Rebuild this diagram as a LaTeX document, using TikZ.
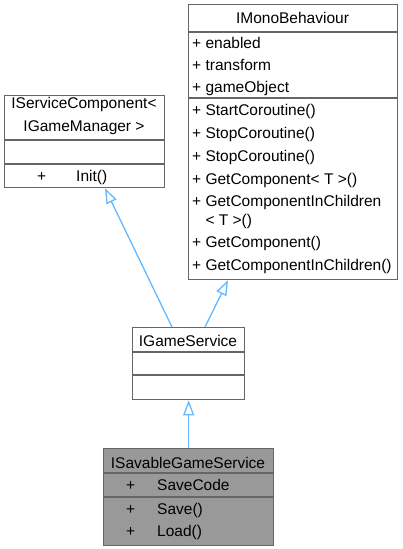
\documentclass[tikz,border=0pt]{standalone}
\usepackage{fontspec}
\setmainfont{Liberation Sans}
\usepackage{xcolor}
\usetikzlibrary{arrows.meta, positioning}
\definecolor{edgeblue}{HTML}{63B8FF}
\definecolor{boxline}{HTML}{666666}
\definecolor{boxfill}{HTML}{999999}
\tikzset{
  cls/.style ={rectangle, draw=boxline, line width=1.3pt, fill=white,
               anchor=north west, inner sep=0pt},
  sep/.style ={draw=boxline, line width=1.3pt},
  ttl/.style ={align=center, inner sep=0pt},
  mem/.style ={anchor=west, inner sep=0pt, text height=11pt, text depth=0pt},
  inh/.style ={-{Triangle[open, length=15pt, width=11pt]}, edgeblue,
               line width=1.3pt}
}

\begin{document}
\begin{tikzpicture}[x=1pt, y=-1pt, font=\fontsize{15.5}{23}\selectfont]
\useasboundingbox (0,0) rectangle (402,549);

% class boxes
\node[cls, minimum width=160pt, minimum height=92pt] (sc) at (4,95) {};
\node[cls, minimum width=209pt, minimum height=275pt] (mb) at (188,4) {};
\node[cls, minimum width=112pt, minimum height=72pt] (gs) at (132,327) {};
\node[cls, fill=boxfill, minimum width=170pt, minimum height=97pt] (sv) at (103,448) {};

% compartments
\draw[sep] ([yshift=-45pt]sc.north west) -- ([yshift=-45pt]sc.north east);
\draw[sep] ([yshift=-69pt]sc.north west) -- ([yshift=-69pt]sc.north east);
\draw[sep] ([yshift=-28pt]mb.north west) -- ([yshift=-28pt]mb.north east);
\draw[sep] ([yshift=-94pt]mb.north west) -- ([yshift=-94pt]mb.north east);
\draw[sep] ([yshift=-25pt]gs.north west) -- ([yshift=-25pt]gs.north east);
\draw[sep] ([yshift=-48pt]gs.north west) -- ([yshift=-48pt]gs.north east);
\draw[sep] ([yshift=-25pt]sv.north west) -- ([yshift=-25pt]sv.north east);
\draw[sep] ([yshift=-49pt]sv.north west) -- ([yshift=-49pt]sv.north east);

% titles
\node[ttl] (scT) at (84,116) {IServiceComponent<\\IGameManager >};
\node[ttl] (mbT) at (292.5,18) {IMonoBehaviour};
\node[ttl] (gsT) at (188,341) {IGameService};
\node[ttl] (svT) at (188,463) {ISavableGameService};

% members
\node[mem] (scP) at (37,176) {+};
\node[mem] (scM) at (76,176) {Init()};
\foreach \y/\t [count=\i] in {43/{+ enabled}, 65/{+ transform},
    87/{+ gameObject}, 110/{+ StartCoroutine()}, 133/{+ StopCoroutine()},
    156/{+ StopCoroutine()}, 179/{+ GetComponent< T >()},
    201/{+ GetComponentInChildren}, 220/{\phantom{+ }< T >()},
    242/{+ GetComponent()}, 265/{+ GetComponentInChildren()}}
  \node[mem] (mb\i) at (192,\y) {\t};
\node[mem] (svP1) at (126,485) {+};
\node[mem] (svA1) at (157,485) {SaveCode};
\node[mem] (svP2) at (126,509) {+};
\node[mem] (svM1) at (157,509) {Save()};
\node[mem] (svP3) at (126,531) {+};
\node[mem] (svM2) at (157,531) {Load()};

% inheritance
\draw[inh] ([xshift=40pt]gs.north west) -- ([xshift=101pt]sc.south west);
\draw[inh] ([xshift=73pt]gs.north west) -- ([xshift=40pt]mb.south west);
\draw[inh] (sv.north) -- (gs.south);

\end{tikzpicture}
\end{document}
